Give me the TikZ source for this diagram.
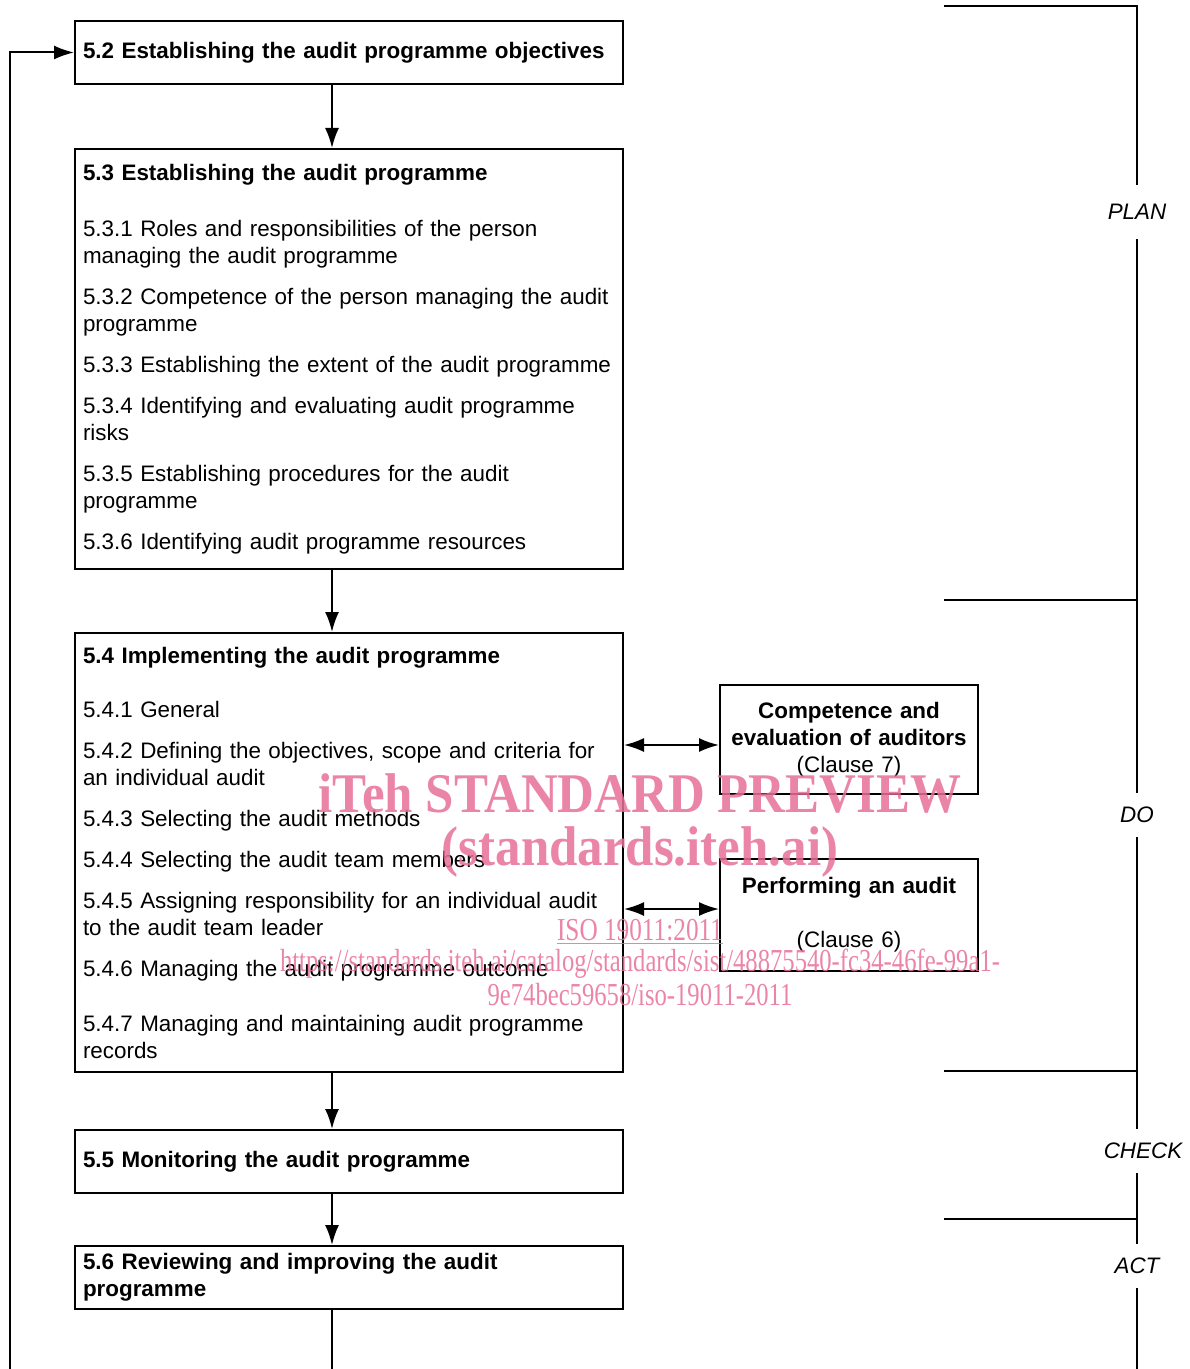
\documentclass[tikz,border=0pt]{standalone}
\usepackage{graphicx}
\usepackage{fontspec}
\setmainfont{Liberation Sans}
\newfontfamily\wmfont{Liberation Serif}
\usepackage{xcolor}
\usetikzlibrary{arrows.meta, positioning}
\definecolor{wmpink}{RGB}{232,112,152}

\begin{document}
\hyphenpenalty=10000
\begin{tikzpicture}[x=0.5pt, y=-0.5pt, >={Latex[length=10pt,width=7pt]}, font=\fontsize{11.2pt}{13.5pt}\selectfont]
		\tikzstyle{stage} = [draw=black, rectangle, line width=1pt, anchor=north west, minimum width=274pt, text width=266pt, inner xsep=4pt, align=left]
		\tikzstyle{side} = [draw=black, rectangle, line width=1pt, anchor=north west, minimum width=129pt, text width=125pt, inner xsep=2pt, align=center]
		\tikzstyle{phaselabel} = [inner xsep=1pt, inner ysep=7pt, font=\fontsize{11.2pt}{13.5pt}\selectfont\itshape]
		\tikzstyle{wmark} = [text=wmpink, text opacity=0.85, inner sep=0pt]
		\tikzstyle{arrow} = [line width=1pt, ->]
		\tikzstyle{twoway} = [line width=1pt, <->]
		\tikzstyle{rail} = [line width=1pt]
		
		\useasboundingbox (0,0) rectangle (1189,1369);
		
		% main column
		\node[stage, minimum height=31.5pt]	at (74, 20)		(box52)	{\textbf{5.2 Establishing the audit programme objectives}};
		\node[stage, minimum height=210pt]	at (74, 148)	(box53)	{\textbf{5.3 Establishing the audit programme}\\[14.5pt]
			5.3.1 Roles and responsibilities of the person\\ managing the audit programme\\[7pt]
			5.3.2 Competence of the person managing the audit\\ programme\\[7pt]
			5.3.3 Establishing the extent of the audit programme\\[7pt]
			5.3.4 Identifying and evaluating audit programme\\ risks\\[7pt]
			5.3.5 Establishing procedures for the audit\\ programme\\[7pt]
			5.3.6 Identifying audit programme resources\\[-3pt]};
		\node[stage, minimum height=219.5pt]	at (74, 632)	(box54)	{\textbf{5.4 Implementing the audit programme}\\[13.5pt]
			5.4.1 General\\[7pt]
			5.4.2 Defining the objectives, scope and criteria for\\ an individual audit\\[7pt]
			5.4.3 Selecting the audit methods\\[7pt]
			5.4.4 Selecting the audit team members\\[7pt]
			5.4.5 Assigning responsibility for an individual audit\\ to the audit team leader\\[7pt]
			5.4.6 Managing the audit programme outcome\\[14pt]
			5.4.7 Managing and maintaining audit programme\\ records};
		\node[stage, minimum height=31.5pt]	at (74, 1129)	(box55)	{\textbf{5.5 Monitoring the audit programme}};
		\node[stage, minimum height=31.5pt]	at (74, 1245)	(box56)	{\textbf{5.6 Reviewing and improving the audit}\\ \textbf{programme}};
		
		% side boxes
		\node[side, minimum height=54.5pt]	at (719, 684)	(comp)	{\textbf{Competence and}\\ \textbf{evaluation of auditors}\\ (Clause 7)};
		\node[side, minimum height=56pt]	at (719, 858)	(perf)	{\textbf{Performing an audit}\\ \mbox{}\\ (Clause 6)};
		
		% phase labels
		\node[phaselabel, inner ysep=9.5pt]	at (1137, 212)	(plan)	{PLAN};
		\node[phaselabel]	at (1137, 815)	(do)	{DO};
		\node[phaselabel]	at (1143, 1151)	(check)	{CHECK};
		\node[phaselabel]	at (1137, 1266)	(act)	{ACT};
		
		\coordinate (spine)		at (332, 0);
		\coordinate (bot)		at (332, 1369);
		\coordinate (ret)		at (10, 1369);
		\coordinate (b0)		at (944, 6);
		\coordinate (b1)		at (944, 600);
		\coordinate (b2)		at (944, 1071);
		\coordinate (b3)		at (944, 1219);
		\coordinate (railtop)	at (1137, 6);
		\coordinate (railend)	at (1137, 1369);
		
		\draw [arrow] (box52.south -| spine) -- (box53.north -| spine);
		\draw [arrow] (box53.south -| spine) -- (box54.north -| spine);
		\draw [arrow] (box54.south -| spine) -- (box55.north -| spine);
		\draw [arrow] (box55.south -| spine) -- (box56.north -| spine);
		\draw [rail]  (box56.south -| spine) -- (bot);
		\draw [arrow] (ret) |- (box52.west);
		
		\draw [twoway] ([yshift=-2.75pt]comp.west -| box54.east) -- ([yshift=-2.75pt]comp.west);
		\draw [twoway] ([yshift=3pt]perf.west -| box54.east) -- ([yshift=3pt]perf.west);
		
		\draw [rail] (b0) -- (railtop) -- (plan);
		\draw [rail] (plan) -- (do);
		\draw [rail] (do) -- (do.south |- check.north);
		\draw [rail] (check.south -| act) -- (act);
		\draw [rail] (act) -- (railend);
		\draw [rail] (b1) -- (b1 -| railtop);
		\draw [rail] (b2) -- (b2 -| railtop);
		\draw [rail] (b3) -- (b3 -| railtop);
		
		% watermark
		\node[wmark, font=\wmfont\bfseries\fontsize{28pt}{30pt}\selectfont]	at (640, 793)	(wm1)	{\scalebox{0.91}[1]{iTeh STANDARD PREVIEW}};
		\node[wmark, font=\wmfont\bfseries\fontsize{28pt}{30pt}\selectfont]	at (640, 852)	(wm2)	{\scalebox{0.91}[1]{(standards.iteh.ai)}};
		\node[wmark, font=\wmfont\fontsize{16pt}{18pt}\selectfont]	at (640, 932)	(wm3)	{\scalebox{0.79}[1]{\underline{ISO 19011:2011}}};
		\node[wmark, font=\wmfont\fontsize{16pt}{18pt}\selectfont]	at (640, 964)	(wm4)	{\scalebox{0.77}[1]{https://standards.iteh.ai/catalog/standards/sist/48875540-fc34-46fe-99a1-}};
		\node[wmark, font=\wmfont\fontsize{16pt}{18pt}\selectfont]	at (640, 995)	(wm5)	{\scalebox{0.77}[1]{9e74bec59658/iso-19011-2011}};
		
	\end{tikzpicture}
\end{document}
